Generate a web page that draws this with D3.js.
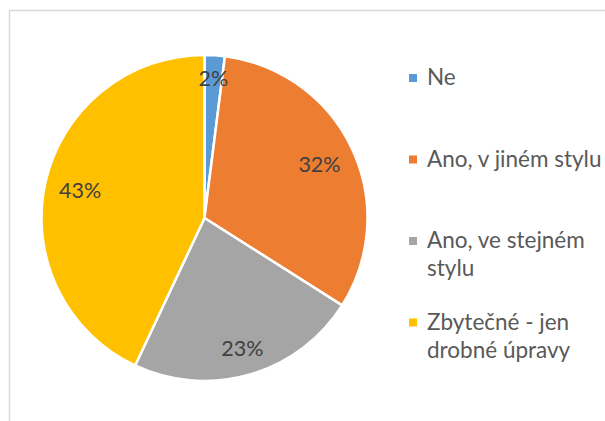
<!DOCTYPE html>
<html>
<head>
<meta charset="utf-8">
<script src="https://cdn.jsdelivr.net/npm/d3@7"></script>
<style>
  html, body { margin: 0; padding: 0; background: #fff; }
  svg text { font-family: Lato, "Open Sans", sans-serif; }
</style>
</head>
<body>
<div id="chart"></div>
<script>
// data
var categories = ["Ne", "Ano, v jiném stylu", "Ano, ve stejném stylu", "Zbytečné - jen drobné úpravy"];
var values = [2, 32, 23, 43];
var legendLines = [["Ne"], ["Ano, v jiném stylu"], ["Ano, ve stejném", "stylu"], ["Zbytečné - jen", "drobné úpravy"]];
var colors = ["#5B9BD5", "#ED7D31", "#A5A5A5", "#FFC000"];

var width = 605, height = 421;
var cx = 204.5, cy = 218, radius = 163;

var svg = d3.select("#chart")
    .append("svg")
    .attr("width", width)
    .attr("height", height);

// chart area border (only top and left visible)
svg.append("path")
    .attr("d", "M9.5,421 V10.5 H605")
    .attr("fill", "none")
    .attr("stroke", "#d9d9d9")
    .attr("stroke-width", 1.5);

var pie = d3.pie().sort(null).value(function(d){ return d; });
var arcs = pie(values);

var arc = d3.arc().innerRadius(0).outerRadius(radius);

var g = svg.append("g")
    .attr("transform", "translate(" + cx + "," + cy + ")");

g.selectAll("path.slice")
    .data(arcs)
    .enter().append("path")
    .attr("class", "slice")
    .attr("d", arc)
    .attr("fill", function(d, i){ return colors[i]; })
    .attr("stroke", "#fff")
    .attr("stroke-width", 2.5)
    .attr("stroke-linejoin", "round");

// percent labels, pushed toward the rim like excel does
var fmt = d3.format(".0%");
var total = d3.sum(values);
var labelFont = 21.5;
g.selectAll("text.lbl")
    .data(arcs)
    .enter().append("text")
    .attr("class", "lbl")
    .attr("font-size", labelFont)
    .attr("fill", "#404040")
    .attr("text-anchor", "middle")
    .attr("dominant-baseline", "central")
    .text(function(d){ return fmt(d.value / total); })
    .each(function(d){
        var t = d3.select(this);
        var w = this.getComputedTextLength();
        var h = 18;
        var a = (d.startAngle + d.endAngle) / 2;
        var ext = Math.abs(Math.sin(a)) * w / 2 + Math.abs(Math.cos(a)) * h / 2;
        var r = radius - 13 - ext;
        t.attr("x", Math.sin(a) * r).attr("y", -Math.cos(a) * r);
    });

// legend
var legendX = 409, textX = 427;
var baseY = d3.scaleLinear().domain([0, 3]).range([85, 329.5]);
var lineH = 28;
var legendFont = 22.5;

var lg = svg.append("g");
legendLines.forEach(function(lines, i){
    var y0 = baseY(i);
    lg.append("rect")
        .attr("x", legendX)
        .attr("y", y0 - 11)
        .attr("width", 8)
        .attr("height", 8)
        .attr("fill", colors[i]);
    var t = lg.append("text")
        .attr("x", textX)
        .attr("y", y0)
        .attr("font-size", legendFont)
        .attr("fill", "#595959");
    lines.forEach(function(s, j){
        t.append("tspan")
            .attr("x", textX)
            .attr("y", y0 + j * lineH)
            .text(s);
    });
});
</script>
</body>
</html>
